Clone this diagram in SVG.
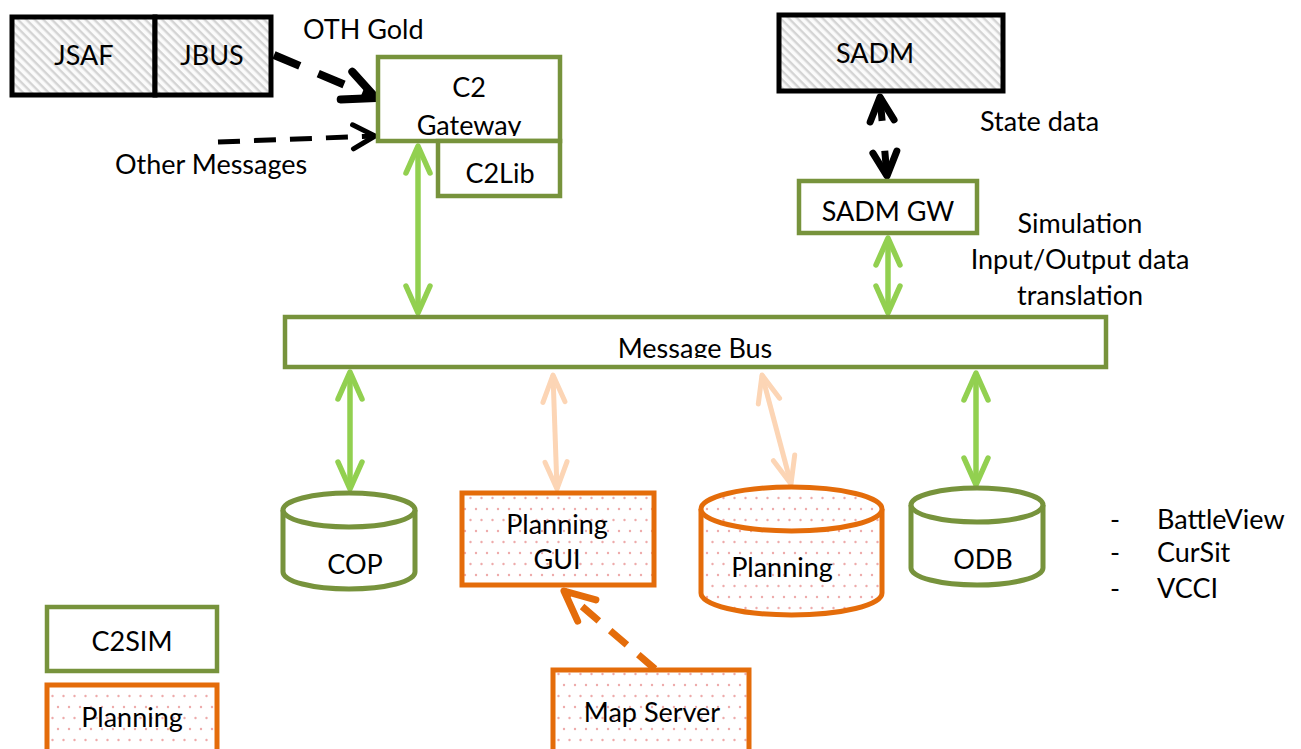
<svg xmlns="http://www.w3.org/2000/svg" width="1301" height="749" viewBox="0 0 1301 749">
  <style>
    text { font-family: Lato, "Open Sans", "Liberation Sans", sans-serif; font-size: 27px; fill: #000; }
    .mid { text-anchor: middle; }
    .green { fill: #fff; stroke: #77933c; stroke-width: 4.5; }
    .orange { fill: url(#dots); stroke: #e46c0a; stroke-width: 5; }
    .black { fill: url(#hatch); stroke: #000; stroke-width: 5; }
    .cyl-g { fill: #fff; stroke: #77933c; stroke-width: 5; }
    .cyl-o { fill: url(#dots); stroke: #e46c0a; stroke-width: 5; }
    .link-g { stroke: #92d050; stroke-width: 5.5; fill: none; marker-start: url(#headG); marker-end: url(#headG); }
    .link-p { stroke: #fcd5b5; stroke-width: 5; fill: none; marker-start: url(#headP); marker-end: url(#headP); }
  </style>
  <defs>
    <pattern id="hatch" patternUnits="userSpaceOnUse" width="6" height="6" patternTransform="rotate(45)">
      <rect width="6" height="6" fill="#fbfbfb"/>
      <rect width="6" height="2.4" fill="#d4d4d4"/>
    </pattern>
    <pattern id="dots" patternUnits="userSpaceOnUse" width="22" height="22">
      <rect width="22" height="22" fill="#fff"/>
      <circle cx="3" cy="3" r="1.2" fill="#eeaaaa"/>
      <circle cx="14" cy="3" r="1.2" fill="#eeaaaa"/>
      <circle cx="8.5" cy="14" r="1.2" fill="#eeaaaa"/>
      <circle cx="19.5" cy="14" r="1.2" fill="#eeaaaa"/>
    </pattern>
    <marker id="headG" markerUnits="userSpaceOnUse" viewBox="-32 -16 36 32" refX="0" refY="0" markerWidth="36" markerHeight="32" orient="auto-start-reverse">
      <path d="M -27,-12 L 0,0 L -27,12" fill="none" stroke="#92d050" stroke-width="5.5" stroke-linecap="round" stroke-linejoin="round"/>
    </marker>
    <marker id="headP" markerUnits="userSpaceOnUse" viewBox="-32 -16 36 32" refX="0" refY="0" markerWidth="36" markerHeight="32" orient="auto-start-reverse">
      <path d="M -27,-11 L 0,0 L -27,11" fill="none" stroke="#fcd5b5" stroke-width="5" stroke-linecap="round" stroke-linejoin="round"/>
    </marker>
    <marker id="headK" markerUnits="userSpaceOnUse" viewBox="-32 -18 36 36" refX="0" refY="0" markerWidth="36" markerHeight="36" orient="auto-start-reverse">
      <path d="M -24,-12 L 0,0 L -24,12" fill="none" stroke="#000" stroke-width="7" stroke-linecap="round" stroke-linejoin="round"/>
    </marker>
    <marker id="headK2" markerUnits="userSpaceOnUse" viewBox="-36 -20 40 40" refX="0" refY="0" markerWidth="40" markerHeight="40" orient="auto">
      <path d="M -22,-12 L 0,0 L -22,12" fill="none" stroke="#000" stroke-width="5" stroke-linecap="round" stroke-linejoin="round"/>
    </marker>
    <marker id="headK3" markerUnits="userSpaceOnUse" viewBox="-40 -22 44 44" refX="0" refY="0" markerWidth="44" markerHeight="44" orient="auto">
      <path d="M -32,-15 L 0,0 L -32,15" fill="none" stroke="#000" stroke-width="8" stroke-linecap="round" stroke-linejoin="round"/>
    </marker>
    <marker id="headO" markerUnits="userSpaceOnUse" viewBox="-36 -20 40 40" refX="0" refY="0" markerWidth="40" markerHeight="40" orient="auto">
      <path d="M -30,-14 L 0,0 L -30,14" fill="none" stroke="#e46c0a" stroke-width="7" stroke-linecap="round" stroke-linejoin="round"/>
    </marker>
    <clipPath id="clipGateway"><rect x="380" y="60" width="178" height="76"/></clipPath>
    <clipPath id="clipBus"><rect x="288" y="320" width="816" height="38"/></clipPath>
  </defs>

  <rect width="1301" height="749" fill="#fff"/>

  <!-- connectors -->
  <g id="connectors">
    <line x1="274" y1="55" x2="376" y2="98" stroke="#000" stroke-width="8" stroke-dasharray="28 20" marker-end="url(#headK3)"/>
    <line x1="218" y1="142" x2="375" y2="136" stroke="#000" stroke-width="5" stroke-dasharray="22 14" marker-end="url(#headK2)"/>
    <line x1="880" y1="97" x2="887" y2="176" stroke="#000" stroke-width="7" stroke-dasharray="24 30" marker-start="url(#headK)" marker-end="url(#headK)"/>
    <line class="link-g" x1="418" y1="146" x2="418" y2="313"/>
    <line class="link-g" x1="888" y1="238" x2="888" y2="313"/>
    <line class="link-g" x1="350" y1="372" x2="350" y2="489"/>
    <line class="link-g" x1="976" y1="373" x2="976" y2="485"/>
    <line class="link-p" x1="553" y1="375" x2="557" y2="489"/>
    <line class="link-p" x1="762" y1="375" x2="791" y2="484"/>
    <line x1="655" y1="669" x2="564" y2="591" stroke="#e46c0a" stroke-width="7" stroke-dasharray="22 15" marker-end="url(#headO)"/>
  </g>

  <!-- JSAF / JBUS -->
  <g id="jsaf">
    <rect class="black" x="12" y="17" width="143" height="78"/>
    <text class="mid" x="84" y="65">JSAF</text>
  </g>
  <g id="jbus">
    <rect class="black" x="155" y="17" width="116" height="78"/>
    <text class="mid" x="212" y="65">JBUS</text>
  </g>

  <text x="303" y="39">OTH Gold</text>
  <text x="115" y="174">Other Messages</text>

  <!-- C2 Gateway with C2Lib -->
  <g id="c2gateway">
    <rect class="green" x="378" y="57" width="182" height="84"/>
    <text class="mid" x="469" y="97">C2</text>
    <text class="mid" x="469" y="135" clip-path="url(#clipGateway)">Gateway</text>
  </g>
  <g id="c2lib">
    <rect class="green" x="438" y="141" width="122" height="55"/>
    <text class="mid" x="500" y="183">C2Lib</text>
  </g>

  <!-- SADM -->
  <g id="sadm">
    <rect class="black" x="779" y="15" width="224" height="76"/>
    <text class="mid" x="875" y="63">SADM</text>
  </g>
  <text x="980" y="131">State data</text>

  <g id="sadmgw">
    <rect class="green" x="799" y="181" width="178" height="52"/>
    <text class="mid" x="888" y="221">SADM GW</text>
  </g>
  <text class="mid" x="1080" y="233">Simulation</text>
  <text class="mid" x="1080" y="269">Input/Output data</text>
  <text class="mid" x="1080" y="305">translation</text>

  <!-- Message bus -->
  <g id="messagebus">
    <rect class="green" x="285" y="317" width="821" height="50"/>
    <text class="mid" x="695" y="358" clip-path="url(#clipBus)">Message Bus</text>
  </g>

  <!-- COP store -->
  <g id="cop">
    <path class="cyl-g" d="M 283,510 A 66,17 0 0 1 415,510 L 415,572 A 66,17 0 0 1 283,572 Z"/>
    <path class="cyl-g" d="M 283,510 A 66,17 0 0 0 415,510" fill="none"/>
    <text class="mid" x="355" y="574">COP</text>
  </g>

  <!-- Planning GUI -->
  <g id="planninggui">
    <rect class="orange" x="462" y="493" width="192" height="92"/>
    <text class="mid" x="557" y="534">Planning</text>
    <text class="mid" x="557" y="569">GUI</text>
  </g>

  <!-- Planning store -->
  <g id="planningdb">
    <path class="cyl-o" d="M 701,509 A 90.5,22 0 0 1 882,509 L 882,593 A 90.5,22 0 0 1 701,593 Z"/>
    <path class="cyl-o" d="M 701,509 A 90.5,22 0 0 0 882,509" fill="none"/>
    <text class="mid" x="782" y="577">Planning</text>
  </g>

  <!-- ODB store -->
  <g id="odb">
    <path class="cyl-g" d="M 911,505 A 66,17 0 0 1 1043,505 L 1043,568 A 66,17 0 0 1 911,568 Z"/>
    <path class="cyl-g" d="M 911,505 A 66,17 0 0 0 1043,505" fill="none"/>
    <text class="mid" x="983" y="569">ODB</text>
  </g>

  <!-- ODB clients -->
  <g id="odblist">
    <text x="1110" y="529">-</text>
    <text x="1157" y="529">BattleView</text>
    <text x="1110" y="562">-</text>
    <text x="1157" y="562">CurSit</text>
    <text x="1110" y="598">-</text>
    <text x="1157" y="598">VCCI</text>
  </g>

  <!-- Map server -->
  <g id="mapserver">
    <rect class="orange" x="553" y="670" width="196" height="84"/>
    <text class="mid" x="652" y="722">Map Server</text>
  </g>

  <!-- Legend -->
  <g id="legend-c2sim">
    <rect class="green" x="47" y="607" width="170" height="64"/>
    <text class="mid" x="132" y="651">C2SIM</text>
  </g>
  <g id="legend-planning">
    <rect class="orange" x="47" y="685" width="170" height="70"/>
    <text class="mid" x="132" y="727">Planning</text>
  </g>
</svg>
